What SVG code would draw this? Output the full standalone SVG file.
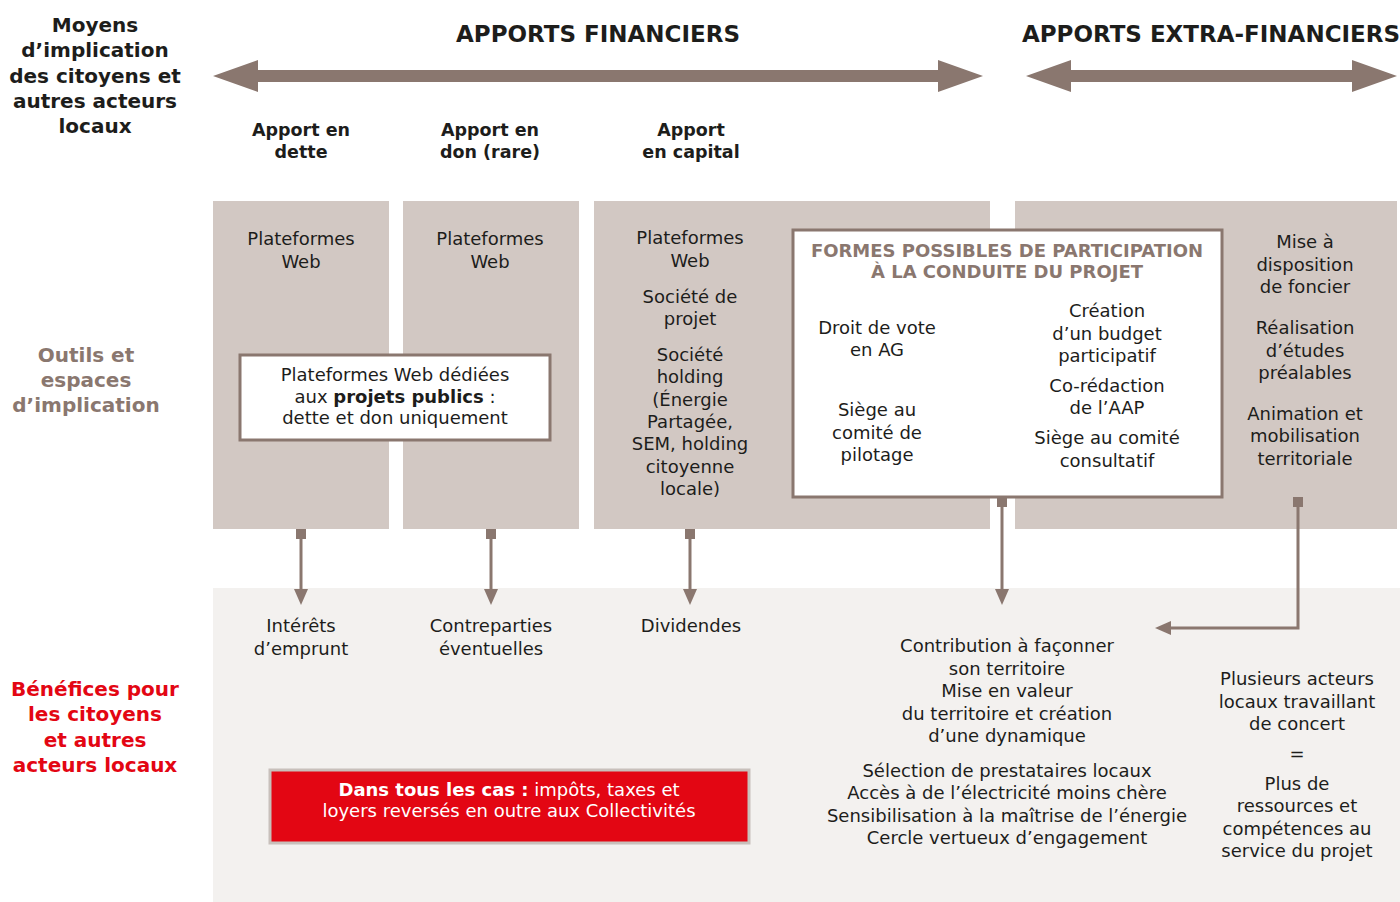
<svg xmlns="http://www.w3.org/2000/svg" width="1400" height="902" viewBox="0 0 1400 902">
<style>
text{font-family:"DejaVu Sans","Noto Sans",sans-serif;text-anchor:middle;fill:#1d1d1b}
.t{font-size:18px}
.h{font-size:17.5px;font-weight:bold}
.hh{font-size:20px;font-weight:bold}
.top{font-size:23px;font-weight:bold}
.col{fill:#d2c8c3}
.box{fill:#ffffff;stroke:#8a776f;stroke-width:3}
.conn{stroke:#8a776f;stroke-width:3;fill:none}
.brown{fill:#8a776f}
.tt{font-size:18px;font-weight:bold;fill:#8a776f}
</style>
<rect width="1400" height="902" fill="#ffffff"/>
<rect x="213" y="588" width="1187" height="314" fill="#f3f1ef"/>

<g id="label-moyens">
<text class="hh" x="95" y="32">Moyens</text>
<text class="hh" x="95" y="57">d’implication</text>
<text class="hh" x="95" y="83">des citoyens et</text>
<text class="hh" x="95" y="108">autres acteurs</text>
<text class="hh" x="95" y="133">locaux</text>
</g>
<g id="label-outils">
<text class="hh" x="86" y="362" style="fill:#8a776f">Outils et</text>
<text class="hh" x="86" y="387" style="fill:#8a776f">espaces</text>
<text class="hh" x="86" y="412" style="fill:#8a776f">d’implication</text>
</g>
<g id="label-benefices">
<text class="hh" x="95" y="696" style="fill:#e30613">Bénéfices pour</text>
<text class="hh" x="95" y="721" style="fill:#e30613">les citoyens</text>
<text class="hh" x="95" y="747" style="fill:#e30613">et autres</text>
<text class="hh" x="95" y="772" style="fill:#e30613">acteurs locaux</text>
</g>

<g id="apports-financiers">
<text class="top" x="598" y="42">APPORTS FINANCIERS</text>
<path class="brown" d="M213,76 L258,60 L258,70 L938,70 L938,60 L983,76 L938,92 L938,82 L258,82 L258,92 z"/>
</g>
<g id="apports-extra">
<text class="top" x="1211" y="42">APPORTS EXTRA-FINANCIERS</text>
<path class="brown" d="M1026,76 L1071,60 L1071,70 L1352,70 L1352,60 L1397,76 L1352,92 L1352,82 L1071,82 L1071,92 z"/>
</g>

<g id="header-dette">
<text class="h" x="301" y="136">Apport en</text>
<text class="h" x="301" y="158">dette</text>
</g>
<g id="header-don">
<text class="h" x="490" y="136">Apport en</text>
<text class="h" x="490" y="158">don (rare)</text>
</g>
<g id="header-capital">
<text class="h" x="691" y="136">Apport</text>
<text class="h" x="691" y="158">en capital</text>
</g>

<g id="col-dette">
<rect class="col" x="213" y="201" width="176" height="328"/>
<text class="t" x="301" y="245">Plateformes</text>
<text class="t" x="301" y="268">Web</text>
</g>
<g id="col-don">
<rect class="col" x="403" y="201" width="176" height="328"/>
<text class="t" x="490" y="245">Plateformes</text>
<text class="t" x="490" y="268">Web</text>
</g>
<g id="col-capital">
<rect class="col" x="594" y="201" width="396" height="328"/>
<text class="t" x="690" y="244">Plateformes</text>
<text class="t" x="690" y="267">Web</text>
<text class="t" x="690" y="303">Société de</text>
<text class="t" x="690" y="325">projet</text>
<text class="t" x="690" y="361">Société</text>
<text class="t" x="690" y="383">holding</text>
<text class="t" x="690" y="406">(Énergie</text>
<text class="t" x="690" y="428">Partagée,</text>
<text class="t" x="690" y="450">SEM, holding</text>
<text class="t" x="690" y="473">citoyenne</text>
<text class="t" x="690" y="495">locale)</text>
</g>
<g id="col-extra">
<rect class="col" x="1015" y="201" width="382" height="328"/>
<text class="t" x="1305" y="248">Mise à</text>
<text class="t" x="1305" y="271">disposition</text>
<text class="t" x="1305" y="293">de foncier</text>
<text class="t" x="1305" y="334">Réalisation</text>
<text class="t" x="1305" y="357">d’études</text>
<text class="t" x="1305" y="379">préalables</text>
<text class="t" x="1305" y="420">Animation et</text>
<text class="t" x="1305" y="442">mobilisation</text>
<text class="t" x="1305" y="465">territoriale</text>
</g>

<g id="box-publics">
<rect class="box" x="240" y="355" width="310" height="85"/>
<text class="t" x="395" y="381">Plateformes Web dédiées</text>
<text class="t" x="395" y="403">aux <tspan font-weight="bold">projets publics</tspan> :</text>
<text class="t" x="395" y="424">dette et don uniquement</text>
</g>

<g id="box-formes">
<rect class="box" x="793" y="230" width="429" height="267"/>
<text class="tt" x="1007" y="257">FORMES POSSIBLES DE PARTICIPATION</text>
<text class="tt" x="1007" y="278">À LA CONDUITE DU PROJET</text>
<text class="t" x="877" y="334">Droit de vote</text>
<text class="t" x="877" y="356">en AG</text>
<text class="t" x="877" y="416">Siège au</text>
<text class="t" x="877" y="439">comité de</text>
<text class="t" x="877" y="461">pilotage</text>
<text class="t" x="1107" y="317">Création</text>
<text class="t" x="1107" y="340">d’un budget</text>
<text class="t" x="1107" y="362">participatif</text>
<text class="t" x="1107" y="392">Co-rédaction</text>
<text class="t" x="1107" y="414">de l’AAP</text>
<text class="t" x="1107" y="444">Siège au comité</text>
<text class="t" x="1107" y="467">consultatif</text>
</g>

<g id="connectors">
<rect class="brown" x="296" y="529" width="10" height="10"/>
<rect class="brown" x="486" y="529" width="10" height="10"/>
<rect class="brown" x="685" y="529" width="10" height="10"/>
<rect class="brown" x="997" y="497" width="10" height="10"/>
<rect class="brown" x="1293" y="497" width="10" height="10"/>
<path class="conn" d="M301,539 V590"/>
<path class="brown" d="M294,589 L308,589 L301,605 z"/>
<path class="conn" d="M491,539 V590"/>
<path class="brown" d="M484,589 L498,589 L491,605 z"/>
<path class="conn" d="M690,539 V590"/>
<path class="brown" d="M683,589 L697,589 L690,605 z"/>
<path class="conn" d="M1002,507 V590"/>
<path class="brown" d="M995,589 L1009,589 L1002,605 z"/>
<path class="conn" d="M1298,507 V628 H1170"/>
<path class="brown" d="M1171,621 L1171,635 L1155,628 z"/>
</g>

<g id="benef-interets">
<text class="t" x="301" y="632">Intérêts</text>
<text class="t" x="301" y="655">d’emprunt</text>
</g>
<g id="benef-contreparties">
<text class="t" x="491" y="632">Contreparties</text>
<text class="t" x="491" y="655">éventuelles</text>
</g>
<g id="benef-dividendes">
<text class="t" x="691" y="632">Dividendes</text>
</g>
<g id="benef-territoire">
<text class="t" x="1007" y="652">Contribution à façonner</text>
<text class="t" x="1007" y="675">son territoire</text>
<text class="t" x="1007" y="697">Mise en valeur</text>
<text class="t" x="1007" y="720">du territoire et création</text>
<text class="t" x="1007" y="742">d’une dynamique</text>
<text class="t" x="1007" y="777">Sélection de prestataires locaux</text>
<text class="t" x="1007" y="799">Accès à de l’électricité moins chère</text>
<text class="t" x="1007" y="822">Sensibilisation à la maîtrise de l’énergie</text>
<text class="t" x="1007" y="844">Cercle vertueux d’engagement</text>
</g>
<g id="benef-acteurs">
<text class="t" x="1297" y="685">Plusieurs acteurs</text>
<text class="t" x="1297" y="708">locaux travaillant</text>
<text class="t" x="1297" y="730">de concert</text>
<text class="t" x="1297" y="760">=</text>
<text class="t" x="1297" y="790">Plus de</text>
<text class="t" x="1297" y="812">ressources et</text>
<text class="t" x="1297" y="835">compétences au</text>
<text class="t" x="1297" y="857">service du projet</text>
</g>

<g id="box-collectivites">
<rect x="270" y="770" width="479" height="73" fill="#e30613" stroke="#c8c0bb" stroke-width="3"/>
<text class="t" x="509" y="796" style="fill:#ffffff"><tspan font-weight="bold">Dans tous les cas :</tspan> impôts, taxes et</text>
<text class="t" x="509" y="817" style="fill:#ffffff">loyers reversés en outre aux Collectivités</text>
</g>
</svg>
